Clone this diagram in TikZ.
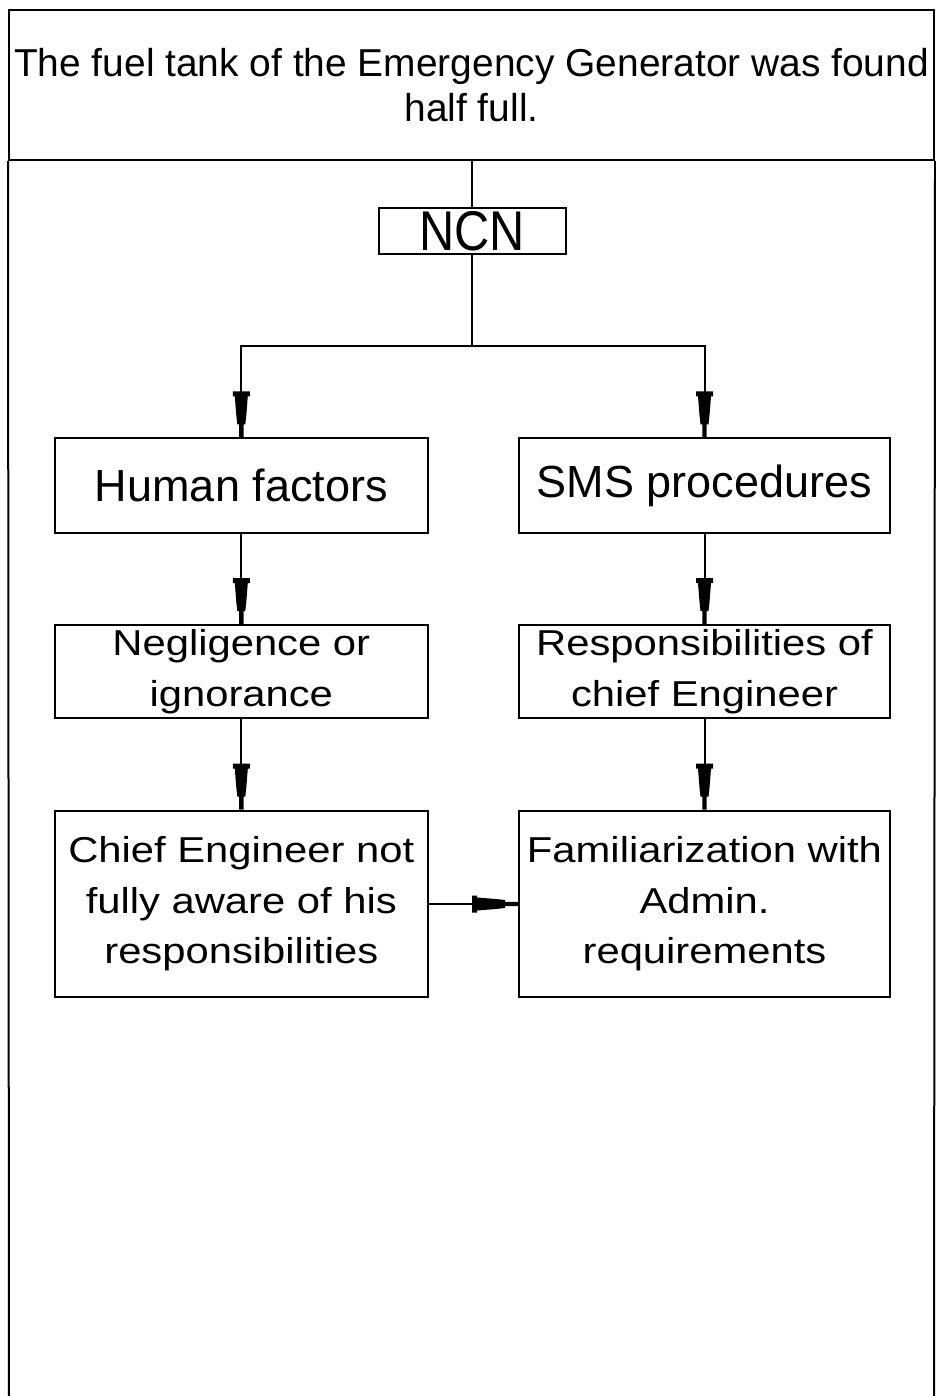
\documentclass[tikz,border=0pt]{standalone}
\usepackage{fontspec}
\setmainfont{Liberation Sans}
\newfontfamily\widefont[FakeStretch=1.16]{Liberation Sans}
\newfontfamily\narrowfont[FakeStretch=0.87]{Liberation Sans}
\usetikzlibrary{arrows.meta}
\pgfdeclarearrow{
  name = StepTip,
  setup code = {
    \pgfarrowssettipend{0pt}
    \pgfarrowssetlineend{-20pt}
    \pgfarrowssetvisualbackend{-46pt}
    \pgfarrowssetbackend{-46pt}
    \pgfarrowshullpoint{0pt}{2.2pt}
    \pgfarrowshullpoint{0pt}{-2.2pt}
    \pgfarrowshullpoint{-46pt}{8.5pt}
    \pgfarrowshullpoint{-46pt}{-8.5pt}
  },
  drawing code = {
    \pgfpathmoveto{\pgfqpoint{0pt}{2.2pt}}
    \pgfpathlineto{\pgfqpoint{-13pt}{2.2pt}}
    \pgfpathlineto{\pgfqpoint{-13pt}{4pt}}
    \pgfpathlineto{\pgfqpoint{-22pt}{5pt}}
    \pgfpathlineto{\pgfqpoint{-41pt}{6.5pt}}
    \pgfpathlineto{\pgfqpoint{-41pt}{8.5pt}}
    \pgfpathlineto{\pgfqpoint{-46pt}{8.5pt}}
    \pgfpathlineto{\pgfqpoint{-46pt}{-8.5pt}}
    \pgfpathlineto{\pgfqpoint{-41pt}{-8.5pt}}
    \pgfpathlineto{\pgfqpoint{-41pt}{-6.5pt}}
    \pgfpathlineto{\pgfqpoint{-22pt}{-5pt}}
    \pgfpathlineto{\pgfqpoint{-13pt}{-4pt}}
    \pgfpathlineto{\pgfqpoint{-13pt}{-2.2pt}}
    \pgfpathlineto{\pgfqpoint{0pt}{-2.2pt}}
    \pgfpathclose
    \pgfusepathqfill
  }
}
\begin{document}
\begin{tikzpicture}[x=1pt,y=-1pt,
  ln/.style={line width=2pt, draw=black},
  box/.style={ln, rectangle, inner sep=0pt, align=center},
  lbox/.style={box, minimum width=372.5pt},
  rbox/.style={box, minimum width=371pt},
  bigtxt/.style={font=\fontsize{45}{50}\selectfont},
  smalltxt/.style={font=\fontsize{36}{50.5}\selectfont\widefont},
  conn/.style={ln, -StepTip}
]
\useasboundingbox (0,0) rectangle (936,1396);
\fill[white] (0,0) rectangle (936,1396);

% header
\node[box, minimum width=925pt, minimum height=150pt,
      font=\fontsize{38.9}{45.7}\selectfont] (header) at (471.5,85)
  {The fuel tank of the Emergency Generator was found\\half full.};
\draw[ln] (header.south west) -- (9,1396);
\draw[ln] (header.south east) -- (934,1396);

% NCN
\node[box, minimum width=186.5pt, minimum height=46.6pt,
      font=\fontsize{56}{60}\selectfont\narrowfont] (ncn) at (472.3,231) {NCN};

\node[lbox, bigtxt, minimum height=94.4pt] (hf) at (241.3,485.5) {Human factors};
\node[rbox, bigtxt, minimum height=94.4pt] (sms) at (704.5,485.5) {SMS procedures};

\node[lbox, smalltxt, minimum height=93.3pt] (neg) at (241.3,671.7) {Negligence or\\ignorance};
\node[rbox, smalltxt, minimum height=93.3pt] (resp) at (704.5,671.7) {Responsibilities of\\chief Engineer};

\node[lbox, smalltxt, minimum height=186.6pt] (chief) at (241.3,904) {Chief Engineer not\\fully aware of his\\responsibilities};
\node[rbox, smalltxt, minimum height=186.6pt] (fam) at (704.5,904) {Familiarization with\\Admin.\\requirements};

% connectors
\coordinate (split) at (472.3,346);
\draw[ln] (ncn.north |- header.south) -- (ncn.north);
\draw[ln] (ncn.south) -- (split);
\draw[conn] (split) -| (hf.north);
\draw[conn] (split) -| (sms.north);
\draw[conn] (hf.south) -- (neg.north);
\draw[conn] (sms.south) -- (resp.north);
\draw[conn] (neg.south) -- (chief.north);
\draw[conn] (resp.south) -- (fam.north);
\draw[conn] (chief.east) -- (fam.west);
\end{tikzpicture}
\end{document}
